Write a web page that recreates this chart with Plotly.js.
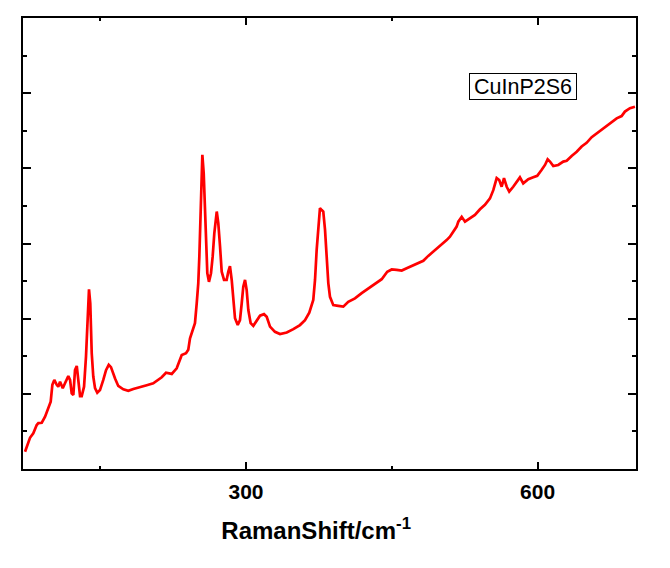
<!DOCTYPE html>
<html>
<head>
<meta charset="utf-8">
<script src="https://cdn.plot.ly/plotly-3.0.1.min.js"></script>
<style>
  html, body { margin: 0; padding: 0; background: #fff; }
  #chart { width: 670px; height: 568px; }
</style>
</head>
<body>
<div id="chart"></div>
<script>
// Raman spectrum of CuInP2S6 (intensity in arbitrary units)
const sampleName = 'CuInP2S6';

const ramanShift = [
  72.7, 76.1, 77.8, 81.2, 84.7, 86.4, 89.9, 93.3, 96.6, 99.1,
  100.8, 102.8, 105.3, 106.9, 108.7, 111.5, 113.8, 117.2, 119.0, 120.7,
  122.4, 124.1, 125.9, 127.5, 129.3, 131.0, 133.4, 135.4, 137.2, 138.5,
  139.8, 141.3, 142.9, 144.7, 147.0, 149.8, 153.2, 156.0, 158.8, 161.1,
  165.3, 168.6, 173.8, 178.9, 184.1, 191.0, 197.9, 204.6, 209.8, 213.3,
  217.7, 221.1, 223.6, 228.7, 233.9, 238.3, 240.6, 242.4, 245.2, 247.5,
  249.3, 250.9, 252.0, 253.0, 254.0, 255.1, 256.5, 257.5, 258.9, 260.2,
  261.9, 264.0, 265.7, 267.4, 269.9, 271.5, 273.3, 275.0, 277.4, 280.1,
  281.8, 283.5, 285.3, 286.9, 288.7, 291.5, 293.8, 295.6, 297.2, 299.0,
  300.7, 302.4, 304.8, 307.5, 311.0, 314.4, 318.5, 321.3, 324.7, 329.8,
  335.0, 341.9, 348.7, 355.5, 360.7, 365.1, 369.2, 371.0, 372.7, 374.4,
  376.1, 377.9, 379.5, 381.3, 383.0, 384.7, 386.4, 389.8, 394.9, 400.1,
  405.2, 412.1, 419.0, 425.8, 432.7, 439.6, 445.3, 449.9, 455.0, 460.2,
  465.3, 470.4, 477.2, 482.4, 487.5, 492.7, 499.5, 506.4, 509.8, 513.2,
  516.7, 518.4, 521.9, 525.3, 530.4, 535.5, 540.7, 545.8, 551.0, 554.4,
  557.9, 560.5, 563.0, 565.4, 568.2, 570.8, 574.9, 578.4, 581.8, 585.2,
  590.4, 595.5, 599.6, 604.2, 607.6, 610.3, 612.7, 616.1, 621.2, 626.4,
  629.9, 635.0, 640.2, 645.3, 650.4, 655.6, 660.7, 665.9, 671.0, 676.2,
  681.3, 686.4, 689.8, 695.0, 700.1
];

const intensity = [
  0.46, 0.68, 0.83, 0.95, 1.17, 1.22, 1.23, 1.39, 1.62, 1.79,
  2.24, 2.37, 2.24, 2.19, 2.32, 2.15, 2.28, 2.47, 2.37, 2.01,
  1.97, 2.63, 2.74, 2.28, 1.94, 1.94, 2.19, 2.99, 3.96, 4.78,
  4.41, 3.08, 2.46, 2.15, 2.03, 2.10, 2.37, 2.63, 2.77, 2.71,
  2.41, 2.21, 2.12, 2.08, 2.13, 2.17, 2.23, 2.28, 2.37, 2.44,
  2.56, 2.55, 2.53, 2.68, 3.03, 3.08, 3.17, 3.48, 3.72, 3.88,
  4.41, 4.94, 5.65, 6.54, 7.69, 8.36, 7.87, 7.16, 6.09, 5.21,
  4.98, 5.21, 5.65, 6.27, 6.85, 6.54, 5.92, 5.25, 5.03, 5.03,
  5.25, 5.40, 5.03, 4.41, 4.01, 3.83, 3.96, 4.41, 4.85, 5.03,
  4.76, 4.23, 3.88, 3.81, 3.96, 4.08, 4.12, 4.05, 3.79, 3.65,
  3.59, 3.63, 3.72, 3.83, 3.96, 4.16, 4.50, 5.03, 5.83, 6.54,
  6.94, 6.89, 6.85, 6.36, 5.65, 4.94, 4.58, 4.36, 4.34, 4.32,
  4.45, 4.54, 4.68, 4.81, 4.94, 5.05, 5.25, 5.31, 5.30, 5.28,
  5.34, 5.40, 5.46, 5.54, 5.67, 5.78, 5.92, 6.09, 6.18, 6.31,
  6.45, 6.58, 6.71, 6.58, 6.67, 6.76, 6.91, 7.03, 7.20, 7.42,
  7.74, 7.69, 7.51, 7.74, 7.51, 7.38, 7.51, 7.65, 7.76, 7.60,
  7.71, 7.76, 7.80, 7.96, 8.09, 8.24, 8.18, 8.06, 8.09, 8.18,
  8.20, 8.33, 8.44, 8.58, 8.68, 8.83, 8.93, 9.04, 9.15, 9.24,
  9.33, 9.39, 9.51, 9.60, 9.64
];

const xTicks = [300, 600];

var trace = {
  x: ramanShift,
  y: intensity,
  type: 'scatter',
  mode: 'lines',
  name: sampleName,
  line: { color: '#ff0000', width: 2.7 },
  hoverinfo: 'x+y'
};

var axisBase = {
  showline: true,
  linecolor: '#000',
  linewidth: 2,
  mirror: 'ticks',
  ticks: 'inside',
  tickcolor: '#000',
  tickwidth: 2,
  showgrid: false,
  zeroline: false
};

var layout = {
  width: 670,
  height: 568,
  margin: { l: 23, r: 34, t: 18, b: 99 },
  paper_bgcolor: '#fff',
  plot_bgcolor: '#fff',
  showlegend: false,
  font: { family: '"Liberation Sans", Arial, sans-serif', color: '#000' },
  xaxis: Object.assign({}, axisBase, {
    range: [70.6, 701.2],
    tickmode: 'array',
    tickvals: xTicks,
    ticktext: xTicks.map(String),
    ticklen: 7,
    minor: { dtick: 150, tick0: 0, ticks: 'inside', ticklen: 3, tickcolor: '#000', tickwidth: 2, showgrid: false },
    tickfont: { size: 21, weight: 'bold', color: '#000' },
    ticklabelstandoff: 3,
    title: {
      // trailing spaces push the title a little left, as in the original
      text: 'RamanShift/cm<sup>-1</sup>&nbsp;&nbsp;&nbsp;&nbsp;',
      font: { size: 24, weight: 'bold', color: '#000' },
      standoff: 20
    }
  }),
  yaxis: Object.assign({}, axisBase, {
    range: [0, 12],
    dtick: 2,
    tick0: 0,
    ticklen: 8,
    showticklabels: false,
    minor: { dtick: 1, tick0: 0, ticks: 'inside', ticklen: 4, tickcolor: '#000', tickwidth: 2, showgrid: false }
  }),
  annotations: [{
    xref: 'paper', yref: 'paper',
    x: 0.816, y: 0.849,
    xanchor: 'center', yanchor: 'middle',
    text: sampleName,
    showarrow: false,
    font: { size: 21.5, color: '#000' },
    width: 104,
    height: 23,
    bordercolor: '#000',
    borderwidth: 1,
    borderpad: 1,
    bgcolor: '#fff'
  }]
};

Plotly.newPlot('chart', [trace], layout, { displayModeBar: false, staticPlot: true });
</script>
</body>
</html>
